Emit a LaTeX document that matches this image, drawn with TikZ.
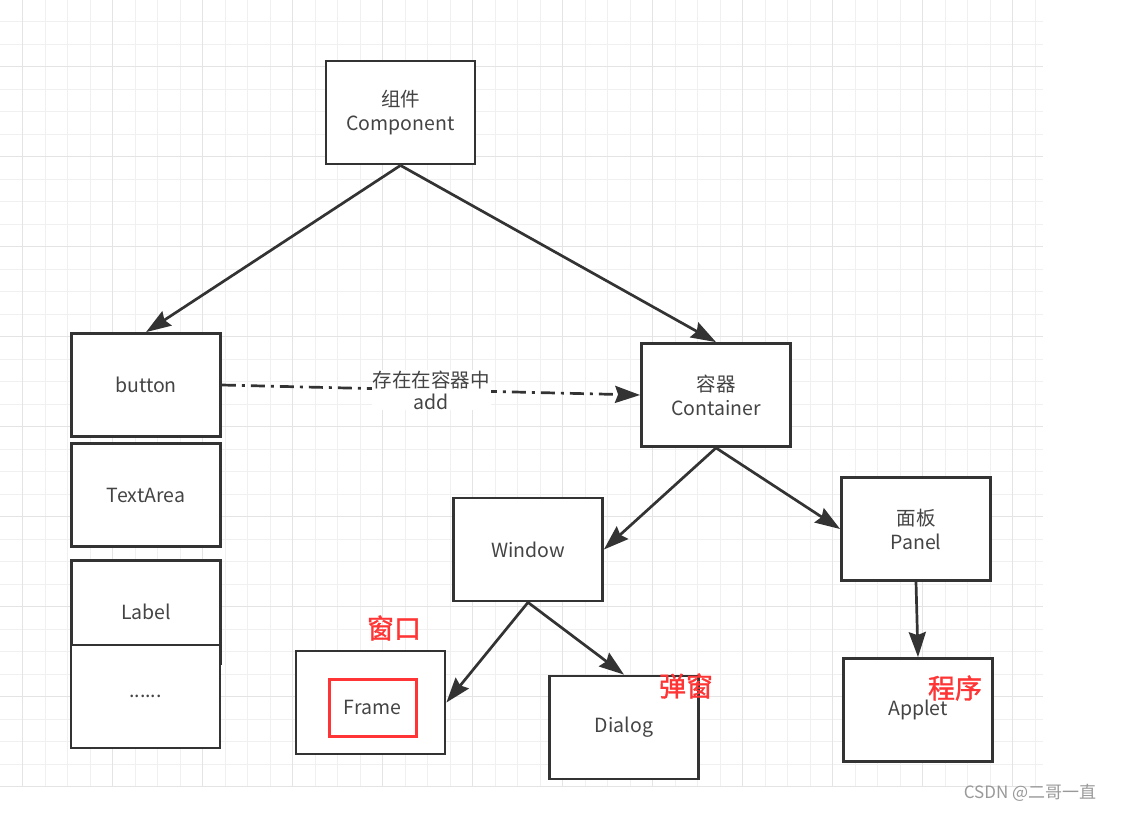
\documentclass[tikz,border=0pt]{standalone}
\usepackage{fontspec}
\setmainfont{Noto Sans CJK SC}
\newfontfamily\tagfont[FakeBold=1.2]{Noto Sans CJK SC}
\usepackage{xcolor}
\usetikzlibrary{arrows.meta}

\definecolor{linegray}{HTML}{333333}
\definecolor{textgray}{HTML}{444444}
\definecolor{markred}{HTML}{FF3434}
\definecolor{gridminor}{HTML}{F0F0F0}
\definecolor{gridmajor}{HTML}{E4E4E4}

\tikzset{
  box/.style={draw=linegray, line width=2.8pt, fill=white, minimum width=149pt,
    minimum height=103pt, inner sep=0pt, align=center, text=textgray,
    font=\fontsize{19.5}{24}\selectfont},
  link/.style={draw=linegray, line width=2.7pt,
    -{Stealth[length=25pt,width=17pt,inset=3pt]}},
  tag/.style={text=markred, font=\tagfont\fontsize{27}{30}\selectfont},
}

\begin{document}
\begin{tikzpicture}[x=1pt,y=-1pt]
\useasboundingbox (0,0) rectangle (1121,812);
\fill[white] (0,0) rectangle (1121,812);

% grid
\foreach \i in {1,...,46}
  \draw[gridminor, line width=1pt] (22.5*\i,0) -- (22.5*\i,787);
\foreach \j in {1,...,35}
  \draw[gridminor, line width=1pt] (0,22.5*\j-1) -- (1043,22.5*\j-1);
\foreach \i in {0,...,11}
  \draw[gridmajor, line width=1.2pt] (22.5+90*\i,0) -- (22.5+90*\i,787);
\foreach \j in {0,...,8}
  \draw[gridmajor, line width=1.2pt] (0,66.5+90*\j) -- (1043,66.5+90*\j);

\node[box] (comp) at (400.5,112.5) {组件\\Component};
\node[box] (button) at (146,385) {button};
\node[box] (textarea) at (146,495) {TextArea};
\node[box] (label) at (146,612) {Label};
\node[box] (more) at (145.5,696.5) {......};
\node[box] (cont) at (716,395) {容器\\Container};
\node[box] (window) at (528,549.5) {Window};
\node[box] (panel) at (916,529) {面板\\Panel};
\node[box] (frame) at (370.5,702.5) {};
\node[draw=markred, line width=3pt, minimum width=87pt, minimum height=57pt,
  inner sep=0pt, text=textgray, font=\fontsize{19.5}{24}\selectfont]
  (framein) at (372.5,707.5) {Frame};
\node[box] (dialog) at (624,727.5) {Dialog};
\node[box] (applet) at (918,710) {Applet};

\node[tag] (tagwin) at (394,628) {窗口};
\node[tag] (tagdlg) at (686,686) {弹窗};
\node[tag] (tagapp) at (955,688) {程序};
\node[text=gray!80, font=\fontsize{17}{20}\selectfont] (mark) at (1030,793) {CSDN @二哥一直};

\draw[link] (comp.south) -- (button.north);
\draw[link] (comp.south) -- (cont.north);
\draw[link] (cont.south) -- (window.east);
\draw[link] (cont.south) -- (panel.west);
\draw[link] (window.south) -- (frame.east);
\draw[link] (window.south) -- (dialog.north);
\draw[link] (panel.south) -- (applet.north);
\draw[link, dash pattern=on 14pt off 6pt on 3pt off 6pt] (button.east) --
  node[fill=white, inner sep=1pt, align=center, text=textgray,
    font=\fontsize{19.5}{22}\selectfont] (addtag) {存在在容器中\\add} (cont.west);

\end{tikzpicture}
\end{document}
